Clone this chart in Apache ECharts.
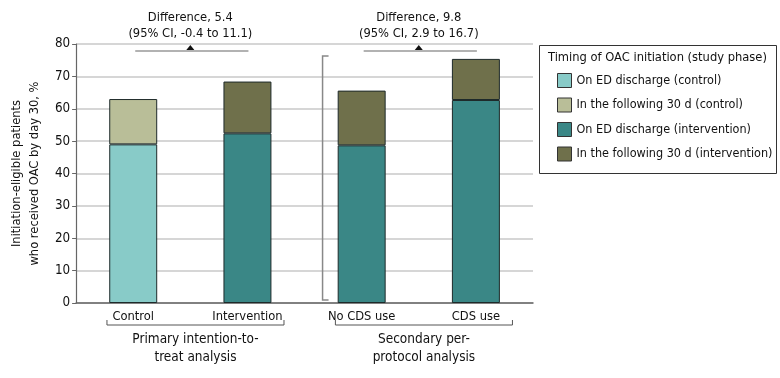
<!DOCTYPE html>
<html>
<head>
<meta charset="utf-8">
<script src="https://cdn.jsdelivr.net/npm/echarts@6/dist/echarts.min.js"></script>
<style>
  html, body { margin: 0; padding: 0; background: #fff; }
  #chart { width: 780px; height: 378px; }
</style>
</head>
<body>
<div id="chart"></div>
<script>
var categories = ['Control', 'Intervention', 'No CDS use', 'CDS use'];
var groupNames = ['Primary intention-to-\ntreat analysis', 'Secondary per-\nprotocol analysis'];
var edControl = [49.0, null, null, null];
var laterControl = [14.0, null, null, null];
var edIntervention = [null, 52.4, 48.7, 62.7];
var laterIntervention = [null, 16.0, 16.9, 12.7];
var diffTexts = ['Difference, 5.4\n(95% CI, -0.4 to 11.1)', 'Difference, 9.8\n(95% CI, 2.9 to 16.7)'];
var yTicks = [0, 80, 10];

var FONT = '"DejaVu Sans Condensed", "Liberation Sans", sans-serif';
var FS = 12.8;
var colors = ['#88cbc8', '#b9be98', '#3a8786', '#6f704b'];

function barSeries(name, data, color) {
    return {
        name: name,
        type: 'bar',
        stack: 'total',
        barWidth: '42%',
        data: data,
        itemStyle: { color: color, borderColor: '#1e2a2a', borderWidth: 1 }
    };
}

var chart = echarts.init(document.getElementById('chart'));
var option = {
    animation: false,
    textStyle: { fontFamily: FONT },
    grid: { left: 75, right: 247, top: 44, bottom: 75 },
    legend: {
        orient: 'vertical',
        left: 557,
        top: 73,
        padding: 0,
        icon: 'rect',
        itemWidth: 14,
        itemHeight: 14,
        itemGap: 9.5,
        textStyle: { fontFamily: FONT, fontSize: 12.5, color: '#111' },
        itemStyle: { borderColor: '#333', borderWidth: 1 },
        data: ['On ED discharge (control)', 'In the following 30 d (control)',
               'On ED discharge (intervention)', 'In the following 30 d (intervention)']
    },
    xAxis: {
        type: 'category',
        data: categories,
        axisTick: { show: false },
        axisLine: { lineStyle: { color: '#666', width: 1.5 } },
        axisLabel: { fontFamily: FONT, fontSize: FS, color: '#111', margin: 7 }
    },
    yAxis: {
        type: 'value',
        min: yTicks[0],
        max: yTicks[1],
        interval: yTicks[2],
        name: 'Initiation-eligible patients\nwho received OAC by day 30, %',
        nameLocation: 'middle',
        nameGap: 30,
        nameTextStyle: { fontFamily: FONT, fontSize: FS, color: '#111', lineHeight: 18 },
        axisLine: { show: true, lineStyle: { color: '#666', width: 1.2 } },
        axisTick: { show: true, length: 4, lineStyle: { color: '#666' } },
        axisLabel: { fontFamily: FONT, fontSize: FS + 0.5, color: '#111', margin: 6 },
        splitLine: { lineStyle: { color: '#c8c8c8', width: 1.5 } }
    },
    series: [
        barSeries('On ED discharge (control)', edControl, colors[0]),
        barSeries('In the following 30 d (control)', laterControl, colors[1]),
        barSeries('On ED discharge (intervention)', edIntervention, colors[2]),
        barSeries('In the following 30 d (intervention)', laterIntervention, colors[3])
    ]
};
chart.setOption(option);

// annotations placed from the axis scales
function px(i, v) { return chart.convertToPixel({ xAxisIndex: 0, yAxisIndex: 0 }, [i, v]); }
var step = px(1, 0)[0] - px(0, 0)[0];
var yLine = px(0, 77.8)[1];
var y0 = px(0, 0)[1];
var gfx = [];
[0, 2].forEach(function (i, g) {
    var a = px(i, 0)[0], b = px(i + 1, 0)[0], mid = (a + b) / 2;
    gfx.push({ type: 'line', shape: { x1: a + 2, y1: yLine, x2: b + 1, y2: yLine },
        style: { stroke: '#999', lineWidth: 1.5 } });
    gfx.push({ type: 'polygon', shape: { points: [[mid - 4, yLine - 1], [mid + 4, yLine - 1], [mid, yLine - 6]] },
        style: { fill: '#111' } });
    gfx.push({ type: 'text', x: mid, y: 10, style: { text: diffTexts[g], fontFamily: FONT, fontSize: FS,
        fill: '#111', align: 'center', lineHeight: 16 } });
    // bracket under category labels
    var l = a - step * 0.23, r = b + step * 0.32;
    gfx.push({ type: 'polyline', shape: { points: [[l, y0 + 17], [l, y0 + 22], [r, y0 + 22], [r, y0 + 17]] },
        style: { stroke: '#555', lineWidth: 1, fill: null } });
    gfx.push({ type: 'text', x: (l + r) / 2, y: y0 + 27, style: { text: groupNames[g], fontFamily: FONT,
        fontSize: FS + 0.7, fill: '#111', align: 'center', lineHeight: 18 } });
});
// vertical separator bracket for the per-protocol group
var xs = (px(1, 0)[0] + px(2, 0)[0]) / 2 + 18;
gfx.push({ type: 'polyline', shape: { points: [[xs + 6, px(0, 76.3)[1]], [xs, px(0, 76.3)[1]], [xs, y0 - 3], [xs + 6, y0 - 3]] },
    style: { stroke: '#888', lineWidth: 1.5, fill: null } });
// legend frame and title
gfx.push({ type: 'rect', shape: { x: 539.5, y: 45.5, width: 237, height: 128 },
    style: { fill: null, stroke: '#333', lineWidth: 1 } });
gfx.push({ type: 'text', x: 548, y: 51, style: { text: 'Timing of OAC initiation (study phase)', fontFamily: FONT,
    fontSize: FS, fill: '#111' } });
chart.setOption({ graphic: gfx });

window.onresize = function () { chart.resize(); };
</script>
</body>
</html>
